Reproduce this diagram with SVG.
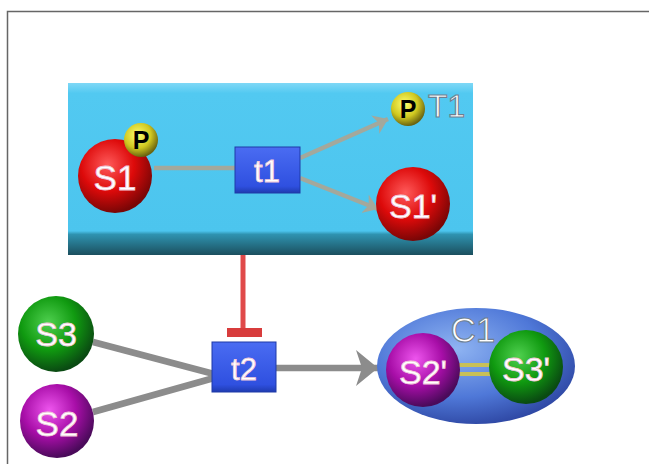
<svg xmlns="http://www.w3.org/2000/svg" width="649" height="464" viewBox="0 0 649 464">
  <defs>
    <style>
      .lbl { font-family: "Liberation Sans", Arial, sans-serif; fill: #ffffff; stroke: #f0c8d8; stroke-width: 0.8; text-anchor: middle; }
      .tag { font-family: "Liberation Sans", Arial, sans-serif; fill: #ffffff; stroke: #6f7f90; stroke-width: 1.1; }
      .plbl { font-family: "Liberation Sans", Arial, sans-serif; font-weight: bold; fill: #000000; text-anchor: middle; font-size: 25px; }
      .edge { fill: none; stroke: #8c8c8c; stroke-width: 6.5; }
      .edge-in { fill: none; stroke: #a3a89c; stroke-width: 4.5; }
      .trans { stroke: #1e3aa8; stroke-width: 1; }
    </style>
    <linearGradient id="compFill" x1="0" y1="0" x2="0" y2="1">
      <stop offset="0" stop-color="#7fd8f6"/>
      <stop offset="0.06" stop-color="#52c9f1"/>
      <stop offset="0.86" stop-color="#4cc5ee"/>
      <stop offset="0.88" stop-color="#2f93b0"/>
      <stop offset="1" stop-color="#1b4f5e"/>
    </linearGradient>
    <linearGradient id="transFill" x1="0" y1="0" x2="0" y2="1">
      <stop offset="0" stop-color="#4a6cf2"/>
      <stop offset="0.85" stop-color="#2f50e0"/>
      <stop offset="1" stop-color="#1f3bb0"/>
    </linearGradient>
    <radialGradient id="red" cx="0.4" cy="0.35" r="0.65">
      <stop offset="0" stop-color="#ff5a5a"/>
      <stop offset="0.55" stop-color="#dd0a0a"/>
      <stop offset="1" stop-color="#7a0606"/>
    </radialGradient>
    <radialGradient id="green" cx="0.4" cy="0.35" r="0.65">
      <stop offset="0" stop-color="#4fd04f"/>
      <stop offset="0.55" stop-color="#109a10"/>
      <stop offset="1" stop-color="#0a4a12"/>
    </radialGradient>
    <radialGradient id="purple" cx="0.4" cy="0.35" r="0.65">
      <stop offset="0" stop-color="#ee55ee"/>
      <stop offset="0.55" stop-color="#a80ea8"/>
      <stop offset="1" stop-color="#4a0a5a"/>
    </radialGradient>
    <radialGradient id="yellow" cx="0.4" cy="0.35" r="0.65">
      <stop offset="0" stop-color="#ffff70"/>
      <stop offset="0.6" stop-color="#d0c820"/>
      <stop offset="1" stop-color="#6a6410"/>
    </radialGradient>
    <radialGradient id="cplx" cx="0.4" cy="0.35" r="0.7">
      <stop offset="0" stop-color="#8fb4f2"/>
      <stop offset="0.6" stop-color="#4f78d8"/>
      <stop offset="1" stop-color="#2c44a0"/>
    </radialGradient>
    <marker id="arrowBig" markerUnits="userSpaceOnUse" markerWidth="30" markerHeight="44" refX="22" refY="20" orient="auto">
      <path d="M0,2 L22,20 L0,38 L6,20 Z" fill="#8c8c8c"/>
    </marker>
    <marker id="arrowSmall" markerUnits="userSpaceOnUse" markerWidth="20" markerHeight="26" refX="14" refY="12" orient="auto">
      <path d="M0,2 L14,12 L0,22 L4,12 Z" fill="#a3a89c"/>
    </marker>
  </defs>

  <rect width="649" height="464" fill="#ffffff"/>
  <!-- outer frame -->
  <path d="M7.5,470 L7.5,11.5 L660,11.5" fill="none" stroke="#666666" stroke-width="1.5"/>

  <!-- compartment T1 -->
  <g id="T1">
    <rect x="68" y="83" width="405" height="172" fill="url(#compFill)"/>
    <text class="tag" x="428" y="117" font-size="32">T1</text>
  </g>

  <!-- connectors -->
  <g id="connectors">
    <line class="edge-in" x1="154" y1="168" x2="236" y2="168"/>
    <line class="edge-in" x1="300" y1="158" x2="388" y2="119" marker-end="url(#arrowSmall)"/>
    <line class="edge-in" x1="300" y1="178" x2="378" y2="209" marker-end="url(#arrowSmall)"/>
    <line class="edge" x1="93" y1="342" x2="214" y2="374"/>
    <line class="edge" x1="93" y1="412" x2="214" y2="378"/>
    <line class="edge" x1="276" y1="368" x2="378" y2="368" marker-end="url(#arrowBig)"/>
    <!-- inhibition from T1 to t2 -->
    <line x1="243" y1="255" x2="243" y2="334" stroke="#e04a4a" stroke-width="5"/>
    <rect x="227" y="328" width="35" height="9" fill="#d83c3c"/>
  </g>

  <g id="S1">
    <circle cx="115" cy="176" r="37" fill="url(#red)"/>
    <text class="lbl" x="115" y="190" font-size="35">S1</text>
  </g>
  <g id="S1_P">
    <circle cx="141" cy="140" r="17" fill="url(#yellow)"/>
    <text class="plbl" x="141" y="149">P</text>
  </g>
  <g id="t1">
    <rect class="trans" x="235" y="147" width="65" height="46" fill="url(#transFill)"/>
    <text class="lbl" x="267" y="182" font-size="31">t1</text>
  </g>
  <g id="P">
    <circle cx="408" cy="109" r="17" fill="url(#yellow)"/>
    <text class="plbl" x="408" y="118">P</text>
  </g>
  <g id="S1p">
    <circle cx="413" cy="204" r="37" fill="url(#red)"/>
    <text class="lbl" x="413" y="218" font-size="34">S1'</text>
  </g>
  <g id="S3">
    <circle cx="56" cy="334" r="38" fill="url(#green)"/>
    <text class="lbl" x="56" y="346" font-size="34">S3</text>
  </g>
  <g id="S2">
    <circle cx="57" cy="421" r="37" fill="url(#purple)"/>
    <text class="lbl" x="57" y="436" font-size="35">S2</text>
  </g>
  <g id="t2">
    <rect class="trans" x="212" y="342" width="64" height="50" fill="url(#transFill)"/>
    <text class="lbl" x="244" y="380" font-size="31">t2</text>
  </g>
  <g id="C1">
    <ellipse cx="476" cy="366" rx="99" ry="58" fill="url(#cplx)"/>
    <rect x="458" y="363" width="32" height="4" fill="#c8c058"/>
    <rect x="458" y="372" width="32" height="4" fill="#c8c058"/>
    <text class="tag" x="473" y="342" font-size="35" text-anchor="middle">C1</text>
    <g id="S2p">
      <circle cx="423" cy="370" r="37" fill="url(#purple)"/>
      <text class="lbl" x="423" y="384" font-size="34">S2'</text>
    </g>
    <g id="S3p">
      <circle cx="526" cy="367" r="37" fill="url(#green)"/>
      <text class="lbl" x="526" y="381" font-size="34">S3'</text>
    </g>
  </g>
</svg>
